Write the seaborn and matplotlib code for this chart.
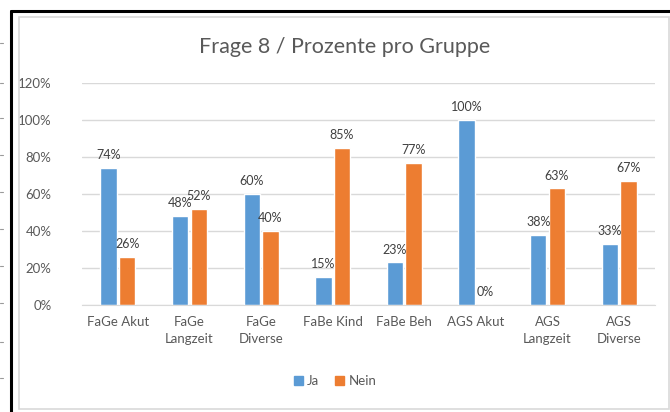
import pandas as pd
import matplotlib
matplotlib.use("Agg")
import matplotlib.pyplot as plt
from matplotlib.lines import Line2D
from matplotlib.patches import Rectangle
import seaborn as sns

# ─── DATA ──────────────────────────────────────────────────────────────
groups = ["FaGe Akut", "FaGe\nLangzeit", "FaGe\nDiverse", "FaBe Kind",
          "FaBe Beh", "AGS Akut", "AGS\nLangzeit", "AGS\nDiverse"]
ja = [74, 48, 60, 15, 23, 100, 38, 33]
nein = [26, 52, 40, 85, 77, 0, 63, 67]
series = ["Ja", "Nein"]
yticks = [0, 20, 40, 60, 80, 100, 120]

df = pd.DataFrame({
    "Gruppe": groups * 2,
    "Antwort": ["Ja"] * len(groups) + ["Nein"] * len(groups),
    "Prozent": ja + nein,
})

sns.set_style("white")
plt.rcParams["font.family"] = ["Lato", "DejaVu Sans"]
grey = "#595959"

fig = plt.figure(figsize=(6.7, 4.12), dpi=100)
W, H = 670, 412

# Spreadsheet frame around the chart object
fig.add_artist(Rectangle((19 / W, 1 - 409 / H), 650 / W, 392 / H,
                         transform=fig.transFigure, fill=False,
                         edgecolor="#d9d9d9", lw=1.2))
fig.add_artist(Line2D([11 / W, 1], [1 - 11 / H] * 2, transform=fig.transFigure,
                      color="black", lw=2.2))
fig.add_artist(Line2D([11 / W] * 2, [0, 1 - 11 / H], transform=fig.transFigure,
                      color="black", lw=2.2))
for y in [43, 83, 118, 155, 192, 229, 266, 303, 342, 378]:
    fig.add_artist(Line2D([0, 3 / W], [1 - y / H] * 2, transform=fig.transFigure,
                          color="#9a9a9a", lw=0.8))

ax = fig.add_axes([82 / W, 1 - 305 / H, 573 / W, 222 / H])
sns.barplot(data=df, x="Gruppe", y="Prozent", hue="Antwort", hue_order=series,
            palette=["#5B9BD5", "#ED7D31"], width=0.52, gap=0.12,
            saturation=1, ax=ax, legend=False)

for cont in ax.containers:
    ax.bar_label(cont, labels=[f"{int(b.get_height())}%" for b in cont],
                 padding=5, fontsize=9, color="#404040")

ax.set_ylim(0, 120)
ax.set_yticks(yticks)
ax.set_yticklabels([f"{t}%" for t in yticks], fontsize=9.5, color=grey)
ax.tick_params(axis="x", labelsize=9.5, labelcolor=grey, length=0, pad=8)
ax.tick_params(axis="y", length=0, pad=22)
ax.set_xlabel("")
ax.set_ylabel("")
ax.grid(axis="y", color="#d9d9d9", lw=1)
ax.set_axisbelow(True)
for s in ["top", "right", "left"]:
    ax.spines[s].set_visible(False)
ax.spines["bottom"].set_color("#d9d9d9")
for lbl in ax.get_xticklabels():
    lbl.set_linespacing(1.5)

fig.text(0.515, 1 - 47 / H, "Frage 8 / Prozente pro Gruppe", ha="center",
         va="center", fontsize=15.5, color=grey)

handles = [Rectangle((0, 0), 1, 1, color=c) for c in ["#5B9BD5", "#ED7D31"]]
fig.legend(handles, series, loc="center", bbox_to_anchor=(0.5, 1 - 381 / H),
           ncol=2, frameon=False, handlelength=0.7, handleheight=0.7,
           handletextpad=0.3, columnspacing=1.2, prop={"size": 9.5},
           labelcolor=grey)

fig.savefig("out.png", dpi=100)
